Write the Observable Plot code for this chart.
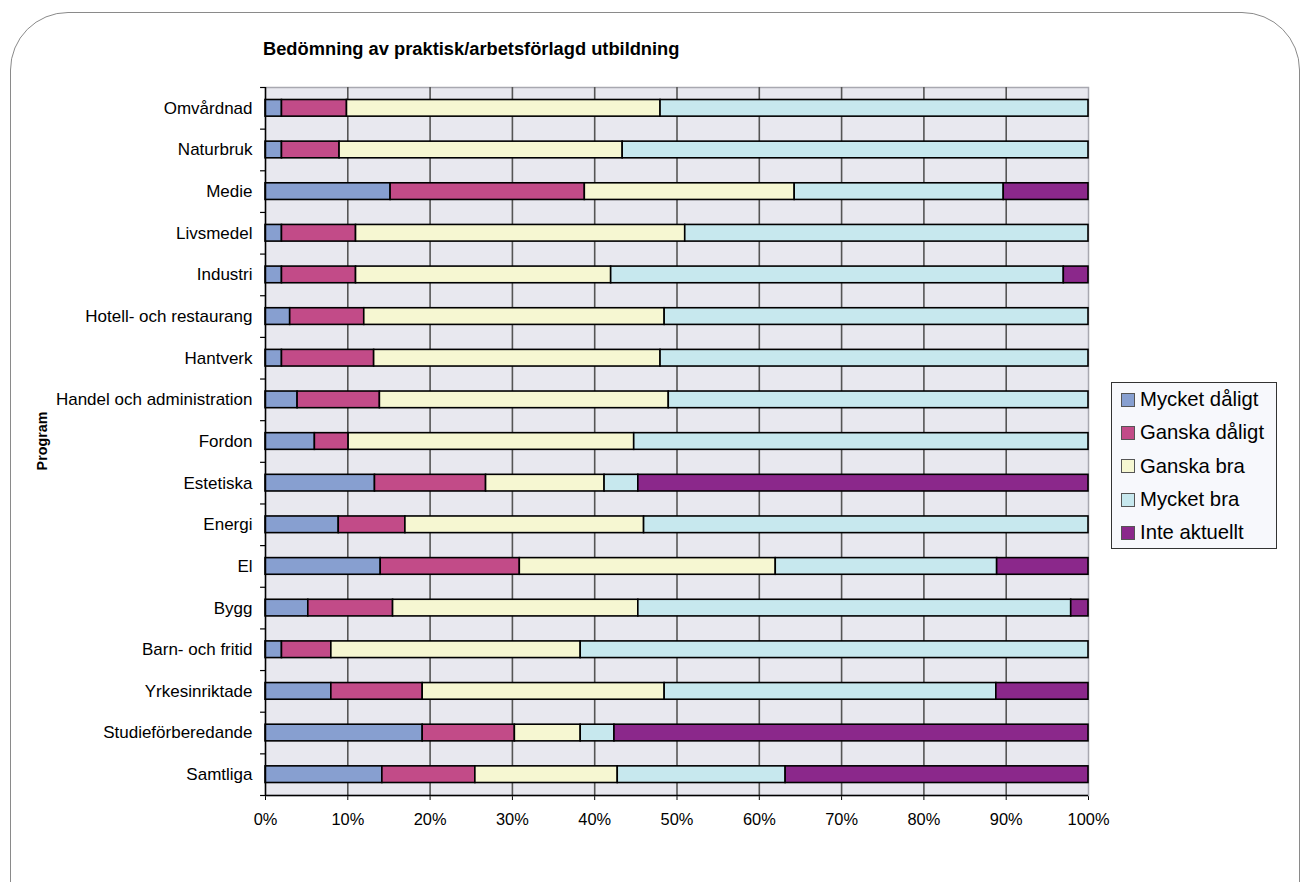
<!DOCTYPE html>
<html>
<head>
<meta charset="utf-8">
<script src="https://cdn.jsdelivr.net/npm/d3@7"></script>
<script src="https://cdn.jsdelivr.net/npm/@observablehq/plot@0.6"></script>
<style>
  html, body { margin: 0; padding: 0; background: #fff; }
  #wrap { position: relative; width: 1305px; height: 882px; overflow: hidden; background: #fff; font-family: "Liberation Sans", Arial, sans-serif; }
  #frame { position: absolute; left: 10px; top: 12px; width: 1290px; height: 940px; border: 1px solid #8a8a8a; border-radius: 58px; box-sizing: border-box; }
  #title { position: absolute; left: 263px; top: 38px; font-size: 18.3px; font-weight: bold; color: #000; white-space: nowrap; }
  #ylab { position: absolute; left: 42px; top: 441px; transform: translate(-50%, -50%) rotate(-90deg); font-size: 14.3px; font-weight: bold; white-space: nowrap; }
  #chart { position: absolute; left: 0; top: 0; }
  #legend { position: absolute; left: 1111px; top: 382px; width: 166px; height: 167px; box-sizing: border-box; border: 1px solid #333; background: #f7f8fc; padding: 0 0 0 9px; }
  .item { display: flex; align-items: center; height: 33.3px; font-size: 20.3px; color: #000; white-space: nowrap; }
  .sw { width: 14px; height: 14px; border: 1px solid #555; box-sizing: border-box; margin-right: 5px; flex: none; }
</style>
</head>
<body>
<div id="wrap">
  <div id="frame"></div>
  <div id="chart"></div>
  <div id="title">Bedömning av praktisk/arbetsförlagd utbildning</div>
  <div id="ylab">Program</div>
  <div id="legend"></div>
</div>
<script>
const programs = [
  "Omvårdnad", "Naturbruk", "Medie", "Livsmedel", "Industri",
  "Hotell- och restaurang", "Hantverk", "Handel och administration", "Fordon",
  "Estetiska", "Energi", "El", "Bygg", "Barn- och fritid",
  "Yrkesinriktade", "Studieförberedande", "Samtliga"
];
const seriesNames = ["Mycket dåligt", "Ganska dåligt", "Ganska bra", "Mycket bra", "Inte aktuellt"];
const seriesColors = ["#879fd0", "#c24b88", "#f6f7d2", "#c7e8ee", "#8b288b"];

// percentage share per program (same order as programs)
const mycketDaligt = [2.0, 2.0, 15.2, 2.0, 2.0, 3.0, 2.0, 3.9, 6.0, 13.3, 8.9, 14.0, 5.2, 2.0, 8.0, 19.1, 14.2];
const ganskaDaligt = [7.9, 7.0, 23.6, 9.0, 9.0, 9.0, 11.2, 10.0, 4.1, 13.5, 8.1, 16.9, 10.3, 6.0, 11.1, 11.2, 11.3];
const ganskaBra    = [38.1, 34.4, 25.5, 40.0, 31.0, 36.5, 34.8, 35.1, 34.7, 14.4, 29.0, 31.1, 29.8, 30.3, 29.4, 8.0, 17.3];
const mycketBra    = [52.0, 56.6, 25.4, 49.0, 55.0, 51.5, 52.0, 51.0, 55.2, 4.1, 54.0, 26.9, 52.6, 61.7, 40.3, 4.1, 20.4];
const inteAktuellt = [0, 0, 10.3, 0, 3.0, 0, 0, 0, 0, 54.7, 0, 11.1, 2.1, 0, 11.2, 57.6, 36.8];

const tickValues = [0, 10, 20, 30, 40, 50, 60, 70, 80, 90, 100];
const gridValues = [10, 20, 30, 40, 50, 60, 70, 80, 90];

const seriesValues = [mycketDaligt, ganskaDaligt, ganskaBra, mycketBra, inteAktuellt];

const rows = [];
programs.forEach((p, i) => {
  seriesNames.forEach((s, j) => {
    const v = seriesValues[j][i];
    if (v > 0) rows.push({program: p, series: s, value: v});
  });
});

const W = 1305, H = 882;
const mTop = 87, mBottom = 87, mLeft = 265, mRight = 217;
const step = (H - mTop - mBottom) / programs.length;

const chart = Plot.plot({
  width: W,
  height: H,
  marginTop: mTop,
  marginBottom: mBottom,
  marginLeft: mLeft,
  marginRight: mRight,
  style: {fontFamily: "'Liberation Sans', Arial, sans-serif", fontSize: "16.4px", color: "#000", background: "transparent"},
  x: {domain: [0, 100], ticks: tickValues, tickFormat: d => d + "%", tickSize: 5, tickPadding: 13, label: null},
  y: {domain: programs, paddingInner: 0.6, paddingOuter: 0.3, round: false, tickSize: 0, tickPadding: 13, label: null},
  color: {domain: seriesNames, range: seriesColors},
  marks: [
    Plot.frame({fill: "#e8e8ef", stroke: "#a8a8b0", strokeWidth: 1.5}),
    Plot.ruleX(gridValues, {stroke: "#555", strokeWidth: 1.6}),
    Plot.barX(rows, Plot.stackX({y: "program", x: "value", fill: "series", order: seriesNames, stroke: "#000", strokeWidth: 1.6})),
    Plot.ruleX([0], {stroke: "#000", strokeWidth: 1.5}),
    Plot.ruleY(programs.slice(-1), {y: d => d, dy: step / 2, x1: 0, x2: 100, stroke: "#000", strokeWidth: 1.5}),
    Plot.ruleY(programs, {y: d => d, dy: step / 2, x1: -0.6, x2: 0, stroke: "#000", strokeWidth: 1.2}),
    Plot.ruleY(programs.slice(0, 1), {y: d => d, dy: -step / 2, x1: -0.6, x2: 0, stroke: "#000", strokeWidth: 1.2}),
    Plot.axisY({tickSize: 0, tickPadding: 13, fontSize: 17, label: null})
  ]
});
document.getElementById("chart").appendChild(chart);

const legend = document.getElementById("legend");
seriesNames.forEach((s, j) => {
  const it = document.createElement("div");
  it.className = "item";
  const sw = document.createElement("span");
  sw.className = "sw";
  sw.style.background = seriesColors[j];
  const tx = document.createElement("span");
  tx.textContent = s;
  it.appendChild(sw);
  it.appendChild(tx);
  legend.appendChild(it);
});
</script>
</body>
</html>
